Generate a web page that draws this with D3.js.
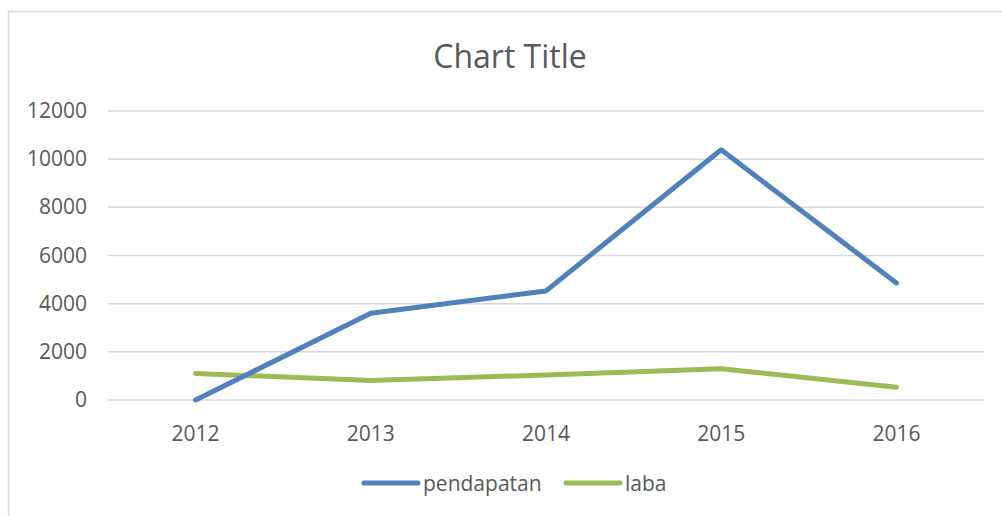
<!DOCTYPE html>
<html lang="id">
<head>
<meta charset="UTF-8">
<title>Chart Title</title>
<script src="https://d3js.org/d3.v7.min.js"></script>
<style>
    body { margin: 0; background: #fff; font-family: "Open Sans", sans-serif; }
    svg text { fill: #595959; }
</style>
</head>
<body>
<div id="chart"></div>
<script>
// data
const years = ["2012", "2013", "2014", "2015", "2016"];
const pendapatan = [0, 3600, 4530, 10390, 4860];
const laba = [1100, 810, 1040, 1300, 530];
const yTicks = [0, 2000, 4000, 6000, 8000, 10000, 12000];

const series = [
    { name: "pendapatan", values: pendapatan, color: "#4f81bd" },
    { name: "laba", values: laba, color: "#9bbb59" }
];

const width = 1002, height = 516;
const svg = d3.select("#chart").append("svg")
    .attr("width", width)
    .attr("height", height);

// chart border
svg.append("rect")
    .attr("x", 8.5).attr("y", 11.5)
    .attr("width", 1010).attr("height", 520)
    .attr("fill", "none")
    .attr("stroke", "#d9d9d9")
    .attr("stroke-width", 1.5);

svg.append("text")
    .attr("x", 510).attr("y", 68)
    .attr("text-anchor", "middle")
    .attr("font-size", "32px")
    .text("Chart Title");

const x = d3.scaleBand().domain(years).range([108, 984]).padding(0);
const y = d3.scaleLinear().domain([0, 12000]).range([400, 111]);
const cx = d => x(d) + x.bandwidth() / 2;

// gridlines
svg.append("g").selectAll("line")
    .data(yTicks)
    .join("line")
    .attr("x1", 108).attr("x2", 984)
    .attr("y1", d => y(d)).attr("y2", d => y(d))
    .attr("stroke", "#d9d9d9")
    .attr("stroke-width", 1.5);

// y labels
svg.append("g").selectAll("text")
    .data(yTicks)
    .join("text")
    .attr("x", 87)
    .attr("y", d => y(d) + 7)
    .attr("text-anchor", "end")
    .attr("font-size", "21px")
    .text(d => d);

// x labels
svg.append("g").selectAll("text")
    .data(years)
    .join("text")
    .attr("x", d => cx(d))
    .attr("y", 441)
    .attr("text-anchor", "middle")
    .attr("font-size", "21px")
    .text(d => d);

// lines
const line = d3.line()
    .x((d, i) => cx(years[i]))
    .y(d => y(d));

svg.append("g").selectAll("path")
    .data(series.slice().reverse())
    .join("path")
    .attr("d", d => line(d.values))
    .attr("fill", "none")
    .attr("stroke", d => d.color)
    .attr("stroke-width", 5)
    .attr("stroke-linecap", "round")
    .attr("stroke-linejoin", "round");

// legend
const legendPos = [364, 566];
const legend = svg.append("g").selectAll("g")
    .data(series)
    .join("g")
    .attr("transform", (d, i) => `translate(${legendPos[i]},483)`);
legend.append("line")
    .attr("x1", 0).attr("x2", 54)
    .attr("stroke", d => d.color)
    .attr("stroke-width", 5)
    .attr("stroke-linecap", "round");
legend.append("text")
    .attr("x", 59).attr("y", 8)
    .attr("font-size", "21px")
    .text(d => d.name);
</script>
</body>
</html>
